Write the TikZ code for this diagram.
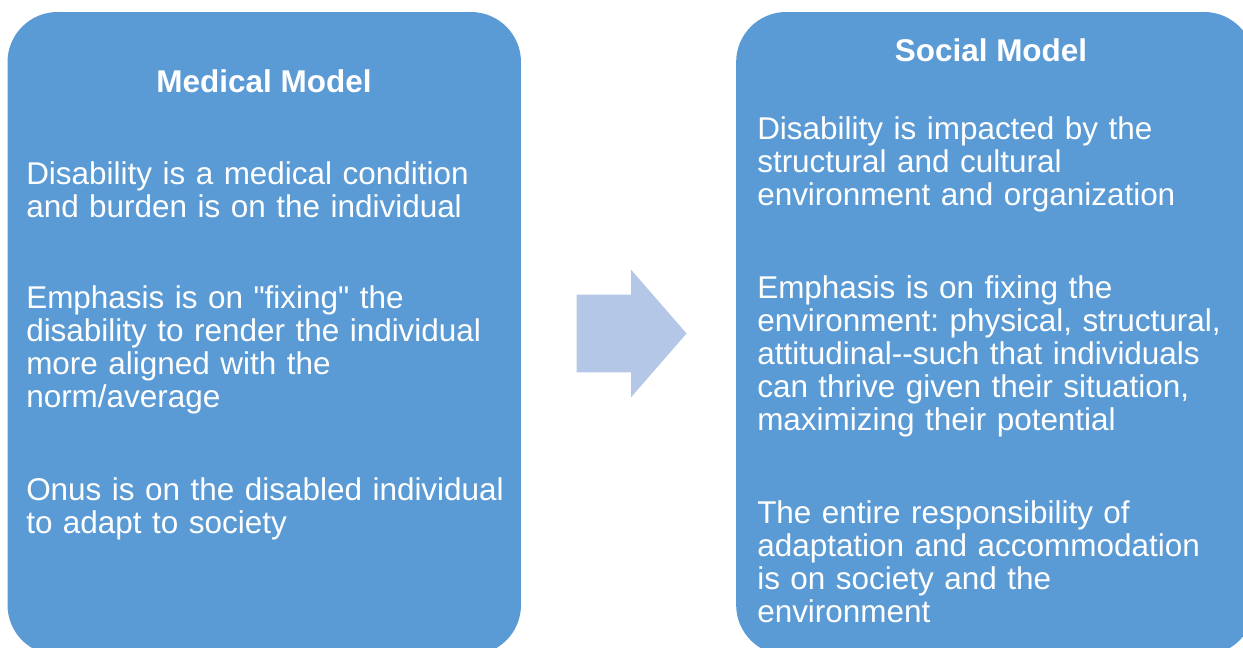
\documentclass[tikz,border=0pt]{standalone}
\usepackage{fontspec}
\setmainfont{Liberation Sans}[Ligatures=TeXOff]
\frenchspacing
\usetikzlibrary{positioning,shapes.arrows}
\definecolor{modelblue}{HTML}{5B9BD5}
\definecolor{arrowblue}{HTML}{B4C7E7}
\tikzstyle{bigarrow} = [single arrow, fill=arrowblue, inner xsep=0pt, inner ysep=28.875pt, minimum height=82.5pt,
                        minimum width=95.25pt, single arrow head extend=18.75pt, single arrow tip angle=98]

\begin{document}
\begin{tikzpicture}[
			x=0.75pt, y=-0.75pt,
			model/.style={
					rectangle,
					rounded corners=37.5pt,
					fill=modelblue,
					minimum height=482.25pt,
				},
			heading/.style={
					anchor=base,
					text=white,
					font=\fontsize{23.6}{24.75}\selectfont\bfseries,
				},
			point/.style={
					anchor=base west,
					text=white,
					text width=370pt,
					align=left,
					inner sep=0pt,
					font=\fontsize{23.6}{24.75}\selectfont,
				}
		]
		\useasboundingbox (0,0) rectangle (1243,647);
		\clip (0,0) rectangle (1243,647);

		% Medical model box
		\node[model, minimum width=385.1pt] (medical) at (264.25,333.5) {};

		% Arrow between the two models
		\node[bigarrow, right=41.25pt of medical] (shift) {};

		% Social model box
		\node[model, minimum width=388.5pt, right=36.75pt of shift] (social) {};

		% Medical model text
		\node[heading] (medtitle) at (264,92) {Medical Model};
		\node[point] (med1) at (26,184) {Disability is a medical condition\\
				and burden is on the individual};
		\node[point] (med2) at (26,308) {Emphasis is on "fixing" the\\
				disability to render the individual\\
				more aligned with the\\
				norm/average};
		\node[point] (med3) at (26,500) {Onus is on the disabled individual\\
				to adapt to society};

		% Social model text
		\node[heading] (soctitle) at (991,61) {Social Model};
		\node[point] (soc1) at (757,139) {Disability is impacted by the\\
				structural and cultural\\
				environment and organization};
		\node[point] (soc2) at (757,298) {Emphasis is on fixing the\\
				environment: physical, structural,\\
				attitudinal--such that individuals\\
				can thrive given their situation,\\
				maximizing their potential};
		\node[point] (soc3) at (757,523) {The entire responsibility of\\
				adaptation and accommodation\\
				is on society and the\\
				environment};

	\end{tikzpicture}
\end{document}
